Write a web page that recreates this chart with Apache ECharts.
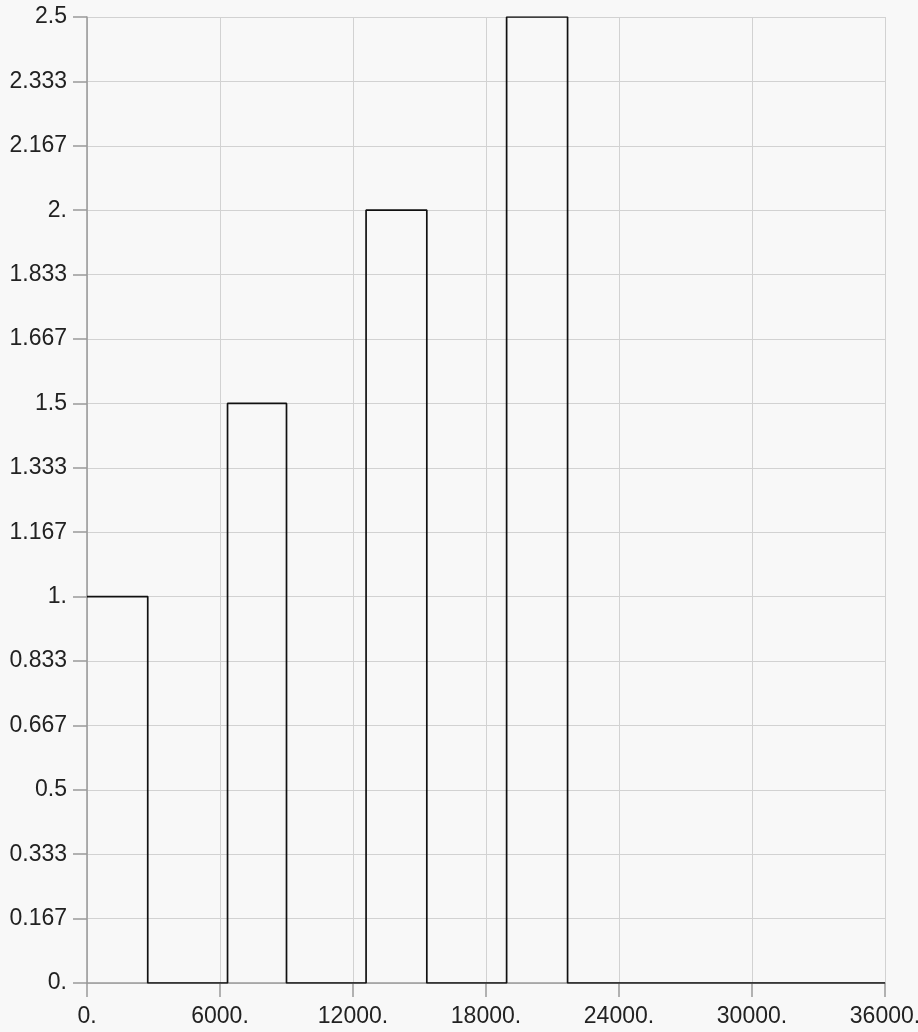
<!DOCTYPE html>
<html>
<head>
<meta charset="utf-8">
<script src="https://cdn.jsdelivr.net/npm/echarts@6/dist/echarts.min.js"></script>
<style>
  html, body { margin: 0; padding: 0; background: #f8f8f8; }
  #chart { width: 918px; height: 1032px; }
</style>
</head>
<body>
<div id="chart"></div>
<script>
// Rectangular pulses: each starts at pulseStart, ends at pulseEnd, with height pulseHeight
const pulseStart  = [0, 6340, 12590, 18930];
const pulseEnd    = [2740, 9000, 15330, 21680];
const pulseHeight = [1, 1.5, 2, 2.5];
const xMax = 36000;

// Tick labels as printed on the axes
const xTickLabels = ['0.', '6000.', '12000.', '18000.', '24000.', '30000.', '36000.'];
const yTickLabels = ['0.', '0.167', '0.333', '0.5', '0.667', '0.833', '1.',
                     '1.167', '1.333', '1.5', '1.667', '1.833', '2.',
                     '2.167', '2.333', '2.5'];

// Step points: the value at each x holds until the next x
const stepData = [];
pulseStart.forEach((s, i) => {
  stepData.push([s, pulseHeight[i]]);
  stepData.push([pulseEnd[i], 0]);
});
stepData.push([xMax, 0]);

const labelFont = {
  fontFamily: '"Liberation Sans", sans-serif',
  fontSize: 23,
  color: '#222'
};

const chart = echarts.init(document.getElementById('chart'), null, { renderer: 'canvas' });
chart.setOption({
  backgroundColor: '#f8f8f8',
  animation: false,
  grid: { left: 87, right: 33, top: 17, bottom: 49, containLabel: false, outerBoundsMode: 'none' },
  xAxis: {
    type: 'value',
    min: 0,
    max: xMax,
    interval: 6000,
    axisLine: { show: true, onZero: false, lineStyle: { color: '#999', width: 1.5 } },
    axisTick: { show: true, inside: false, length: 14, lineStyle: { color: '#999', width: 1.5 } },
    splitLine: { show: true, lineStyle: { color: '#d2d2d2', width: 1 } },
    axisLabel: Object.assign({
      margin: 22,
      hideOverlap: false,
      formatter: v => xTickLabels[Math.round(v / 6000)]
    }, labelFont)
  },
  yAxis: {
    type: 'value',
    min: 0,
    max: 2.5,
    interval: 1 / 6,
    axisLine: { show: true, onZero: false, lineStyle: { color: '#999', width: 1.5 } },
    axisTick: { show: true, inside: false, length: 14, lineStyle: { color: '#999', width: 1.5 } },
    splitLine: { show: true, lineStyle: { color: '#d2d2d2', width: 1 } },
    axisLabel: Object.assign({
      margin: 20,
      formatter: v => yTickLabels[Math.round(v * 6)]
    }, labelFont)
  },
  series: [{
    type: 'line',
    step: 'end',
    data: stepData,
    showSymbol: false,
    symbol: 'none',
    lineStyle: { color: '#111', width: 1.7 },
    z: 5
  }]
});
</script>
</body>
</html>
